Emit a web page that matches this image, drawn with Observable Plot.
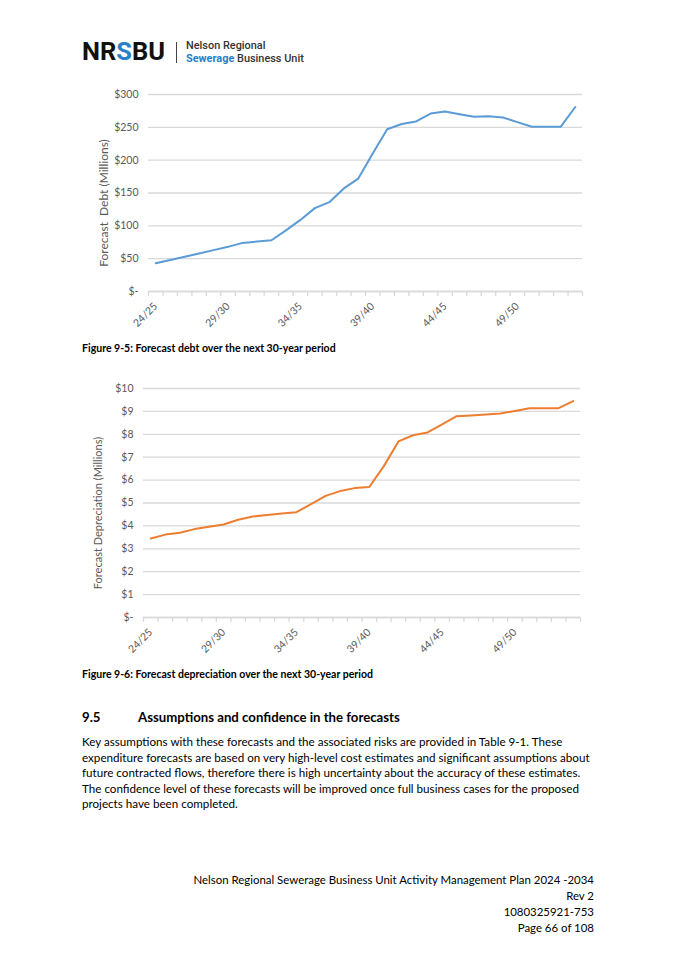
<!DOCTYPE html>
<html>
<head>
<meta charset="utf-8">
<script src="https://cdn.jsdelivr.net/npm/d3@7"></script>
<script src="https://cdn.jsdelivr.net/npm/@observablehq/plot@0.6"></script>
<style>
  html, body { margin: 0; padding: 0; background: #fff; }
  #page { position: relative; width: 675px; height: 955px; overflow: hidden; background: #fff; font-family: Lato, "Open Sans", sans-serif; color: #000; }
  .abs { position: absolute; white-space: nowrap; }
  .chart svg text { white-space: pre; }
</style>
</head>
<body>
<div id="page">
  <!-- header logo -->
  <div class="abs" id="logo" style="left:82px; top:34px; font-family:Roboto, sans-serif; font-weight:700; font-size:27px; line-height:34px; color:#111; letter-spacing:0px;">NR<span style="color:#2a7fc6">S</span>BU</div>
  <div class="abs" style="left:175.5px; top:42px; width:1.2px; height:21px; background:#444;"></div>
  <div class="abs" id="logo1" style="left:186px; top:40px; font-family:Roboto, sans-serif; font-weight:500; font-size:11px; line-height:12px; color:#333;">Nelson Regional</div>
  <div class="abs" id="logo2" style="left:186px; top:52.5px; font-family:Roboto, sans-serif; font-weight:500; font-size:11px; line-height:12px; color:#333;"><span style="color:#1f7fc6; font-weight:700">Sewerage</span> Business Unit</div>

  <div class="abs chart" id="chart1" style="left:70px; top:80px;"></div>
  <div class="abs" id="cap1" style="left:82px; top:341px; font-weight:700; font-size:10px; line-height:14px;">Figure 9-5: Forecast debt over the next 30-year period</div>

  <div class="abs chart" id="chart2" style="left:65px; top:374px;"></div>
  <div class="abs" id="cap2" style="left:82px; top:667px; font-weight:700; font-size:10px; line-height:14px;">Figure 9-6: Forecast depreciation over the next 30-year period</div>

  <div class="abs" id="h95" style="left:82px; top:708px; font-weight:700; font-size:14.5px; line-height:18px;">9.5</div>
  <div class="abs" id="h95t" style="left:138px; top:708px; font-weight:700; font-size:14.5px; line-height:18px;">Assumptions and confidence in the forecasts</div>

  <div id="para"></div>
  <div id="foot"></div>
</div>
<script>
// ---------- data ----------
const years = ["24/25","25/26","26/27","27/28","28/29","29/30","30/31","31/32","32/33","33/34",
               "34/35","35/36","36/37","37/38","38/39","39/40","40/41","41/42","42/43","43/44",
               "44/45","45/46","46/47","47/48","48/49","49/50","50/51","51/52","52/53","53/54"];
const debt = [43, 48, 53, 58, 63, 68, 74, 76, 78, 93,
              109, 127, 136, 157, 172, 210, 247, 255, 259, 271,
              274, 270, 266, 267, 265, 258, 251, 251, 251, 281];
const depreciation = [3.45, 3.62, 3.70, 3.86, 3.96, 4.06, 4.27, 4.41, 4.48, 4.54,
                      4.60, 4.95, 5.31, 5.52, 5.65, 5.70, 6.61, 7.69, 7.96, 8.08,
                      8.43, 8.79, 8.82, 8.86, 8.91, 9.02, 9.14, 9.14, 9.14, 9.45];
const debtTicks = [0, 50, 100, 150, 200, 250, 300];
const depTicks = [0, 1, 2, 3, 4, 5, 6, 7, 8, 9, 10];
const labelYears = ["24/25", "29/30", "34/35", "39/40", "44/45", "49/50"];

const paragraphLines = [
  "Key assumptions with these forecasts and the associated risks are provided in Table 9-1. These",
  "expenditure forecasts are based on very high-level cost estimates and significant assumptions about",
  "future contracted flows, therefore there is high uncertainty about the accuracy of these estimates.",
  "The confidence level of these forecasts will be improved once full business cases for the proposed",
  "projects have been completed."
];
const footerLines = [
  "Nelson Regional Sewerage Business Unit Activity Management Plan 2024 -2034",
  "Rev 2",
  "1080325921-753",
  "Page 66 of 108"
];

// ---------- charts ----------
const gridColor = "#d9d9d9";
const textColor = "#595959";

function makeChart({values, ticks, yMax, fmt, color, label, width, height, margins, labelDx, labelDy, labelSize}) {
  const data = years.map((year, i) => ({i, year, v: values[i]}));
  const boundaries = d3.range(years.length + 1).map(k => k - 0.5);
  const labelIdx = labelYears.map(y => years.indexOf(y));
  return Plot.plot({
    width, height,
    marginLeft: margins[0], marginRight: margins[1], marginTop: margins[2], marginBottom: margins[3],
    style: {fontFamily: "Lato, 'Open Sans', sans-serif", fontSize: "10px", color: textColor, background: "transparent", overflow: "visible"},
    x: {type: "linear", domain: [-0.5, years.length - 0.5]},
    y: {domain: [0, yMax]},
    marks: [
      Plot.gridY(ticks, {stroke: gridColor, strokeOpacity: 1, strokeWidth: 1.3}),
      Plot.ruleY([0], {stroke: gridColor, strokeWidth: 1.3}),
      Plot.axisY(ticks, {tickSize: 0, tickPadding: 10, tickFormat: fmt, label: null, fill: textColor, fontSize: 10.5}),
      Plot.axisX(boundaries, {tickSize: 5, stroke: gridColor, strokeWidth: 1.3, tickFormat: () => "", label: null}),
      Plot.axisX(labelIdx, {tickSize: 0, tickPadding: 13, tickRotate: -45, tickFormat: i => years[i], label: null, fill: textColor, fontSize: 10.5}),
      Plot.line(data, {x: "i", y: "v", stroke: color, strokeWidth: 2, strokeLinejoin: "round"}),
      Plot.text([label], {text: d => d, frameAnchor: "left", rotate: -90, textAnchor: "middle", dx: labelDx, dy: labelDy, fill: textColor, fontSize: labelSize})
    ]
  });
}

document.getElementById("chart1").append(makeChart({
  values: debt, ticks: debtTicks, yMax: 300,
  fmt: d => d === 0 ? "$-" : "$" + d,
  color: "#5b9bd5", label: "Forecast  Debt (Millions)",
  width: 530, height: 260, margins: [78, 18, 14, 49], labelDx: -44, labelDy: 10, labelSize: 12
}));

document.getElementById("chart2").append(makeChart({
  values: depreciation, ticks: depTicks, yMax: 10,
  fmt: d => d === 0 ? "$-" : "$" + d,
  color: "#ed7d31", label: "Forecast Depreciation (Millions)",
  width: 535, height: 290, margins: [78, 20, 14, 47], labelDx: -45, labelDy: 10, labelSize: 11
}));

// ---------- text layout ----------
const page = document.getElementById("page");
function fit(el, target) {
  const w = el.getBoundingClientRect().width;
  const fs = parseFloat(getComputedStyle(el).fontSize);
  el.style.fontSize = (fs * target / w) + "px";
}
const para = document.getElementById("para");
paragraphLines.forEach((t, k) => {
  const d = document.createElement("div");
  d.className = "abs";
  d.textContent = t;
  d.style.left = "82px";
  d.style.top = (734 + k * 15.5) + "px";
  d.style.fontSize = "12px";
  d.style.lineHeight = "16px";
  para.append(d);
});
const paraEls = [...para.children];
fit(paraEls[1], 508);
paraEls.forEach(e => e.style.fontSize = paraEls[1].style.fontSize);

const foot = document.getElementById("foot");
footerLines.forEach((t, k) => {
  const d = document.createElement("div");
  d.className = "abs";
  d.textContent = t;
  d.style.right = "81px";
  d.style.textAlign = "right";
  d.style.top = (872 + k * 16) + "px";
  d.style.fontSize = "12px";
  d.style.lineHeight = "16px";
  foot.append(d);
});
const footEls = [...foot.children];
fit(footEls[0], 401);
footEls.forEach(e => e.style.fontSize = footEls[0].style.fontSize);

fit(document.getElementById("cap1"), 254);
document.getElementById("cap2").style.fontSize = document.getElementById("cap1").style.fontSize;
fit(document.getElementById("h95t"), 262);
document.getElementById("h95").style.fontSize = document.getElementById("h95t").style.fontSize;
fit(document.getElementById("logo"), 83);
fit(document.getElementById("logo2"), 118);
document.getElementById("logo1").style.fontSize = document.getElementById("logo2").style.fontSize;
</script>
</body>
</html>
